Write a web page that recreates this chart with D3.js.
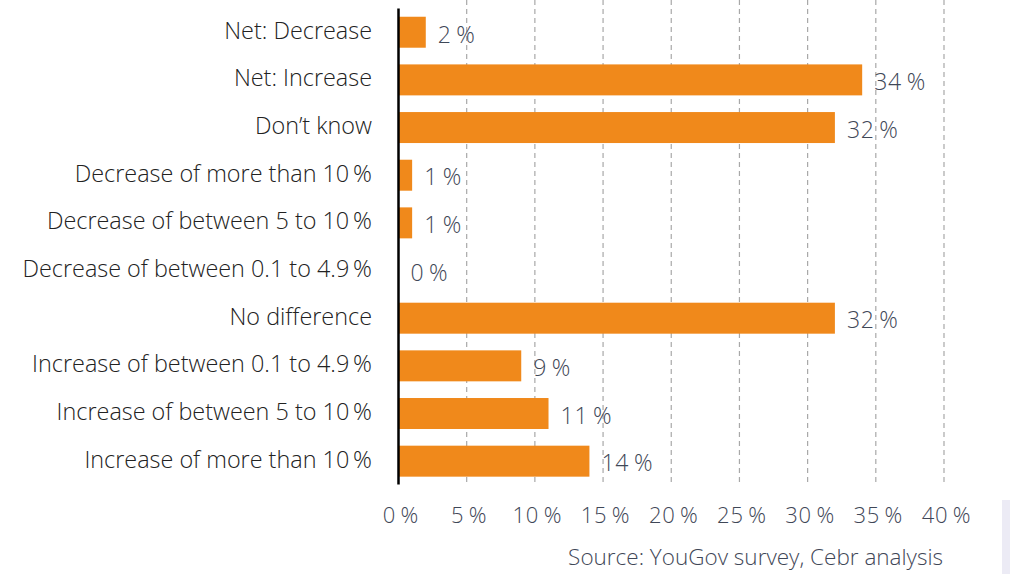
<!DOCTYPE html>
<html>
<head>
<meta charset="utf-8">
<script src="https://cdn.jsdelivr.net/npm/d3@7"></script>
<style>
  html, body { margin: 0; padding: 0; background: #fff; }
  svg { display: block; font-family: "Open Sans", "Noto Sans", sans-serif; }
</style>
</head>
<body>
<svg id="chart" width="1010" height="574"></svg>
<script>
const categories = [
  "Net: Decrease",
  "Net: Increase",
  "Don\u2019t know",
  "Decrease of more than 10\u2009%",
  "Decrease of between 5 to 10\u2009%",
  "Decrease of between 0.1 to 4.9\u2009%",
  "No difference",
  "Increase of between 0.1 to 4.9\u2009%",
  "Increase of between 5 to 10\u2009%",
  "Increase of more than 10\u2009%"
];
const values = [0.02, 0.34, 0.32, 0.01, 0.01, 0.00, 0.32, 0.09, 0.11, 0.14];
const tickValues = [0, 0.05, 0.10, 0.15, 0.20, 0.25, 0.30, 0.35, 0.40];
const sourceText = "Source: YouGov survey, Cebr analysis";

const svg = d3.select("#chart");
const fmt = v => Math.round(v * 100) + "\u2009%";

const x = d3.scaleLinear().domain([0, 0.4]).range([398.5, 944]);
const y = d3.scaleBand().domain(categories).range([8.4, 485]).paddingInner(0.35).paddingOuter(0.175);

// right edge decoration
svg.append("rect").attr("x", 1002).attr("y", 500).attr("width", 8).attr("height", 74).attr("fill", "#ecebf5");

// gridlines
svg.append("g")
  .selectAll("line")
  .data(tickValues.slice(1))
  .join("line")
  .attr("x1", d => x(d)).attr("x2", d => x(d))
  .attr("y1", 0).attr("y2", 486)
  .attr("stroke", "#a8a8a8")
  .attr("stroke-width", 1.2)
  .attr("stroke-dasharray", "5,4");

// bars
svg.append("g")
  .selectAll("rect")
  .data(categories)
  .join("rect")
  .attr("x", x(0))
  .attr("y", d => y(d))
  .attr("width", (d, i) => x(values[i]) - x(0))
  .attr("height", y.bandwidth())
  .attr("fill", "#f0891b");

// value labels
svg.append("g")
  .selectAll("text")
  .data(categories)
  .join("text")
  .attr("x", (d, i) => x(values[i]) + 12)
  .attr("y", d => y(d) + y.bandwidth() / 2 + 2)
  .attr("dy", "0.36em")
  .attr("fill", "#3f4757")
  .attr("font-size", 23)
  .attr("font-weight", 300)
  .attr("letter-spacing", 0.8)
  .text((d, i) => fmt(values[i]));

// y axis line
svg.append("line")
  .attr("x1", x(0)).attr("x2", x(0))
  .attr("y1", 8.5).attr("y2", 484.5)
  .attr("stroke", "#000").attr("stroke-width", 2.5);

// category labels
svg.append("g")
  .selectAll("text")
  .data(categories)
  .join("text")
  .attr("x", 372)
  .attr("y", d => y(d) + y.bandwidth() / 2 - 2)
  .attr("dy", "0.36em")
  .attr("text-anchor", "end")
  .attr("fill", "#222")
  .attr("font-size", 23.4)
  .attr("font-weight", 300)
  .text(d => d);

// x axis tick labels
const xAxis = d3.axisBottom(x).tickValues(tickValues).tickFormat(fmt).tickSize(0).tickPadding(0);
const gx = svg.append("g").attr("transform", "translate(2,506)").call(xAxis);
gx.select(".domain").remove();
gx.selectAll("text")
  .attr("font-size", 22)
  .attr("font-weight", 300)
  .attr("letter-spacing", 0.8)
  .attr("font-family", "\"Open Sans\", \"Noto Sans\", sans-serif")
  .attr("fill", "#3f4757")
  .attr("dy", "0.75em");

// source
svg.append("text")
  .attr("x", 943).attr("y", 557)
  .attr("dy", "0.36em")
  .attr("text-anchor", "end")
  .attr("fill", "#3f4757")
  .attr("font-size", 22.5)
  .attr("font-weight", 300)
  .text(sourceText);
</script>
</body>
</html>
